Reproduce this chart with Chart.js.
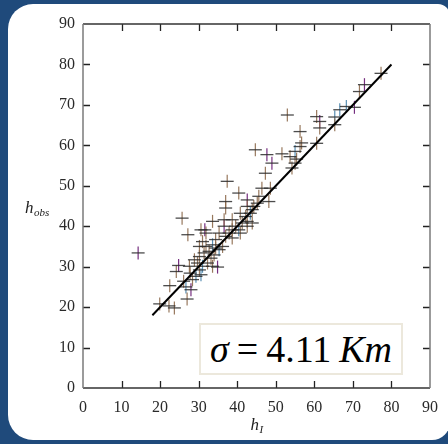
<!DOCTYPE html>
<html>
<head>
<meta charset="utf-8">
<script src="https://cdn.jsdelivr.net/npm/chart.js@4.4.1/dist/chart.umd.min.js"></script>
<style>
  html,body{margin:0;padding:0;}
  body{background:#1f4a7b;width:448px;height:444px;overflow:hidden;position:relative;font-family:"Liberation Serif",serif;}
  #panel{position:absolute;left:8px;top:4px;width:442px;height:436px;background:#fff;border-radius:25px 12px 18px 25px;}
  #c{position:absolute;left:0;top:0;}
  #sigma{position:absolute;left:199px;top:323px;width:200px;height:48px;border:2px solid #ece8dc;background:#fff;
    font-family:"Liberation Serif",serif;font-size:38px;line-height:48px;color:#000;text-align:center;white-space:nowrap;letter-spacing:0px;}
  #sigma .sp{display:inline-block;width:8px;}
</style>
</head>
<body>
<div id="panel"></div>
<canvas id="c" width="448" height="444"></canvas>
<div id="sigma"><i>σ</i><span class="sp"></span>=<span class="sp"></span>4.11<span class="sp"></span><i>Km</i></div>
<script>
// ---- data ----
const xTicks = [0,10,20,30,40,50,60,70,80,90];
const yTicks = [0,10,20,30,40,50,60,70,80,90];
const fitLine = [{x:18,y:18},{x:80,y:80}];

const purplePts = [
  {x:14.3,y:33.4},{x:24.8,y:30.3},{x:31.6,y:39.1},{x:47.7,y:57.7},{x:49.0,y:55.6},
  {x:70.4,y:69.4},{x:61.4,y:65.9},{x:28.0,y:24.3},{x:73.0,y:75.0},{x:34.9,y:29.9},
  {x:36.6,y:40.0},{x:42.6,y:46.5}
];
const bluePts = [
  {x:26.7,y:25.0},{x:30.6,y:28.0},{x:31.0,y:30.1},{x:33.6,y:35.4},{x:35.3,y:34.2},
  {x:43.4,y:43.2},{x:55.0,y:58.5},{x:66.6,y:68.8},{x:68.3,y:69.6},{x:65.3,y:67.0},
  {x:40.4,y:39.1},{x:29.3,y:27.6}
];
const orangePts = [
  {x:25.7,y:42.0},{x:27.2,y:37.9},{x:24.2,y:28.8},{x:22.5,y:25.3},{x:19.9,y:20.8},
  {x:22.3,y:20.3},{x:23.7,y:19.8},{x:27.0,y:22.0},{x:26.1,y:26.4},{x:27.8,y:28.4},
  {x:28.9,y:31.7},{x:30.2,y:32.5},{x:31.0,y:36.2},{x:30.6,y:39.1},{x:33.6,y:41.2},
  {x:36.6,y:41.6},{x:37.4,y:51.1},{x:37.0,y:46.1},{x:37.0,y:44.5},{x:40.4,y:48.2},
  {x:44.7,y:58.9},{x:47.3,y:53.1},{x:46.4,y:49.4},{x:48.6,y:49.4},{x:45.6,y:47.4},
  {x:48.2,y:46.1},{x:53.0,y:67.5},{x:51.6,y:57.9},{x:53.7,y:57.2},{x:56.3,y:59.7},
  {x:56.3,y:63.4},{x:56.7,y:60.6},{x:55.4,y:56.6},{x:54.2,y:54.4},{x:55.0,y:55.6},
  {x:60.6,y:67.1},{x:61.4,y:64.3},{x:60.6,y:60.5},{x:65.3,y:65.1},{x:71.7,y:73.3},
  {x:77.3,y:77.8},{x:31.9,y:35.0},{x:34.4,y:34.6},{x:36.2,y:35.0},{x:37.0,y:37.5},
  {x:37.9,y:38.3},{x:38.7,y:39.1},{x:39.6,y:40.0},{x:41.3,y:40.8},{x:42.2,y:42.4},
  {x:42.6,y:41.2},{x:44.3,y:44.9},{x:38.7,y:37.1},{x:33.6,y:30.1},{x:30.2,y:29.2},
  {x:28.4,y:26.8},{x:32.3,y:30.9},{x:33.2,y:32.1},{x:31.4,y:33.4},{x:32.7,y:33.8},
  {x:34.0,y:32.9},{x:30.2,y:35.0},{x:29.7,y:30.9},{x:27.6,y:30.1},{x:31.9,y:38.3},
  {x:34.4,y:36.7},{x:35.3,y:38.3},{x:38.7,y:41.6},{x:40.8,y:43.2},{x:42.6,y:44.9},
  {x:43.9,y:44.1},{x:45.2,y:45.7},{x:40.8,y:38.3},{x:42.6,y:40.0},{x:43.9,y:40.8}
];
const allPts = [...orangePts, ...purplePts, ...bluePts];

// ---- chart ----
function vStroke(data, color){
  return {type:'scatter', data, pointStyle:'line', pointRadius:6.5, pointRotation:90,
    pointBorderColor:color, pointBorderWidth:1.2, pointBackgroundColor:color, showLine:false};
}

const frame = {
  id:'frame',
  afterDraw(chart){
    const {ctx, chartArea:a, scales:{x, y}} = chart;
    ctx.save();
    const L = 7;
    ctx.lineWidth = 1.3;
    ctx.strokeStyle = '#222';
    xTicks.slice(1,-1).forEach(v=>{
      const px = Math.round(x.getPixelForValue(v))+0.5;
      ctx.beginPath(); ctx.moveTo(px,a.bottom); ctx.lineTo(px,a.bottom-L);
      ctx.moveTo(px,a.top); ctx.lineTo(px,a.top+L); ctx.stroke();
    });
    yTicks.slice(1,-1).forEach(v=>{
      const py = Math.round(y.getPixelForValue(v))+0.5;
      ctx.beginPath(); ctx.moveTo(a.left,py); ctx.lineTo(a.left+L,py);
      ctx.moveTo(a.right,py); ctx.lineTo(a.right-L,py); ctx.stroke();
    });
    ctx.lineWidth = 1.5;
    ctx.strokeStyle = '#333';
    ctx.beginPath(); ctx.moveTo(a.left,a.top); ctx.lineTo(a.right,a.top); ctx.stroke();
    ctx.beginPath(); ctx.moveTo(a.left,a.bottom); ctx.lineTo(a.right,a.bottom); ctx.stroke();
    ctx.strokeStyle = '#7a7a7a';
    ctx.beginPath(); ctx.moveTo(a.left,a.top); ctx.lineTo(a.left,a.bottom); ctx.stroke();
    ctx.beginPath(); ctx.moveTo(a.right,a.top); ctx.lineTo(a.right,a.bottom); ctx.stroke();
    // axis titles
    ctx.fillStyle = '#222';
    ctx.textBaseline = 'alphabetic';
    ctx.font = 'italic 17px "Liberation Serif"';
    const xc = (a.left+a.right)/2;
    ctx.textAlign = 'left';
    ctx.fillText('h', xc-6, a.bottom+42);
    ctx.font = 'italic 11px "Liberation Serif"';
    ctx.fillText('I', xc+3, a.bottom+45);
    const yc = (a.top+a.bottom)/2;
    ctx.font = 'italic 17px "Liberation Serif"';
    ctx.fillText('h', 25, yc+7);
    ctx.font = 'italic 11px "Liberation Serif"';
    ctx.fillText('obs', 34, yc+10);
    ctx.restore();
  }
};

new Chart(document.getElementById('c'), {
  type:'scatter',
  data:{datasets:[
    {type:'line', data:fitLine, borderColor:'#000', borderWidth:2, pointRadius:0, order:0},
    {type:'scatter', data:allPts, pointStyle:'line', pointRadius:6.5, pointRotation:0,
      pointBorderColor:'rgba(45,45,45,0.85)', pointBorderWidth:1.3, showLine:false, order:1},
    Object.assign(vStroke(orangePts,'rgba(140,105,75,0.9)'),{order:2}),
    Object.assign(vStroke(purplePts,'rgba(110,35,120,0.95)'),{order:2}),
    Object.assign(vStroke(bluePts,'rgba(70,130,170,0.9)'),{order:2})
  ]},
  options:{
    responsive:false, animation:false,
    layout:{padding:{top:24,right:15,left:0,bottom:0}},
    plugins:{legend:{display:false}, tooltip:{enabled:false}},
    scales:{
      x:{type:'linear', min:0, max:90, afterFit(s){s.height=56;},
        afterBuildTicks(s){s.ticks = xTicks.map(v=>({value:v}));},
        grid:{display:false, drawTicks:false}, border:{display:false},
        ticks:{padding:10, color:'#2a2a2a', font:{family:'Liberation Serif', size:16}, maxRotation:0}},
      y:{type:'linear', min:0, max:90, afterFit(s){s.width=83;},
        afterBuildTicks(s){s.ticks = yTicks.map(v=>({value:v}));},
        grid:{display:false, drawTicks:false}, border:{display:false},
        ticks:{padding:8, color:'#2a2a2a', font:{family:'Liberation Serif', size:16}}}
    }
  },
  plugins:[frame]
});
</script>
</body>
</html>
